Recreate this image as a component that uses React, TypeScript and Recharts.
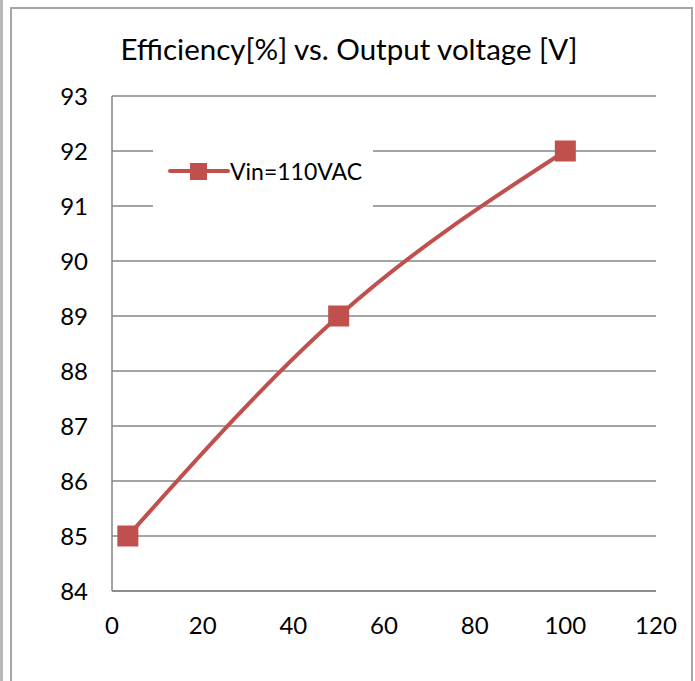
import React from 'react';
import { LineChart, Line, XAxis, YAxis, CartesianGrid, Legend } from 'recharts';

const outputVoltage = [3.5, 50, 100];
const efficiency = [85, 89, 92];
const seriesName = 'Vin=110VAC';
const titleText = 'Efficiency[%] vs. Output voltage [V]';
const xTicks = [0, 20, 40, 60, 80, 100, 120];
const yTicks = [84, 85, 86, 87, 88, 89, 90, 91, 92, 93];

const data = outputVoltage.map((v, i) => ({ v, eff: efficiency[i] }));

const RED = '#C0504D';
const GRID = '#868686';
const FONT = 'Lato, "Noto Sans", sans-serif';

const SquareDot = (props: any) => {
  const { cx, cy } = props;
  if (cx == null || cy == null) return null;
  const s = 21;
  return <rect x={cx - s / 2} y={cy - s / 2} width={s} height={s} fill={RED} />;
};

const LegendContent = () => (
  <div style={{ background: '#fff', width: '100%', height: '100%', display: 'flex', alignItems: 'center' }}>
    <svg width={62} height={30} style={{ marginLeft: 15 }}>
      <line x1={2} y1={15} x2={60} y2={15} stroke={RED} strokeWidth={4} strokeLinecap="round" />
      <rect x={22} y={7} width={17} height={17} fill={RED} />
    </svg>
    <span style={{ fontFamily: FONT, fontSize: 23, color: '#000', marginLeft: 0 }}>{seriesName}</span>
  </div>
);

export default function App() {
  return (
    <div style={{ position: 'absolute', left: 0, top: 0, width: 695, height: 681, background: '#fff' }}>
      <div style={{ position: 'absolute', left: 0, top: 0, width: 3, height: 681, background: '#b8b8b8' }} />
      <div style={{ position: 'absolute', left: 10, top: 7, width: 679, height: 690, border: '2px solid #a6a6a6', borderBottom: 'none' }} />
      <div style={{ position: 'absolute', left: 0, top: 0 }}>
        <LineChart width={695} height={681} data={data} margin={{ top: 96, right: 39, bottom: 0, left: 0 }}>
          <text x={349} y={60} textAnchor="middle" fontFamily={FONT} fontSize={29.5} fill="#000">{titleText}</text>
          <CartesianGrid horizontal vertical={false} stroke={GRID} strokeWidth={1.5} />
          <XAxis
            dataKey="v"
            type="number"
            domain={[0, 120]}
            ticks={xTicks}
            height={90}
            tickSize={0}
            tickMargin={26}
            axisLine={{ stroke: GRID, strokeWidth: 1.5 }}
            tick={{ fill: '#000', fontFamily: FONT, fontSize: 24 }}
            interval={0}
          />
          <YAxis
            type="number"
            domain={[84, 93]}
            ticks={yTicks}
            width={112}
            tickSize={0}
            tickMargin={24}
            axisLine={{ stroke: GRID, strokeWidth: 1.5 }}
            tick={{ fill: '#000', fontFamily: FONT, fontSize: 24 }}
            interval={0}
          />
          <Legend
            layout="horizontal"
            verticalAlign="middle"
            align="center"
            wrapperStyle={{ left: 153, top: 133, width: 220, height: 76 }}
            content={<LegendContent />}
          />
          <Line
            name={seriesName}
            dataKey="eff"
            type="monotone"
            stroke={RED}
            strokeWidth={4}
            dot={<SquareDot />}
            activeDot={false}
            isAnimationActive={false}
          />
        </LineChart>
      </div>
    </div>
  );
}
